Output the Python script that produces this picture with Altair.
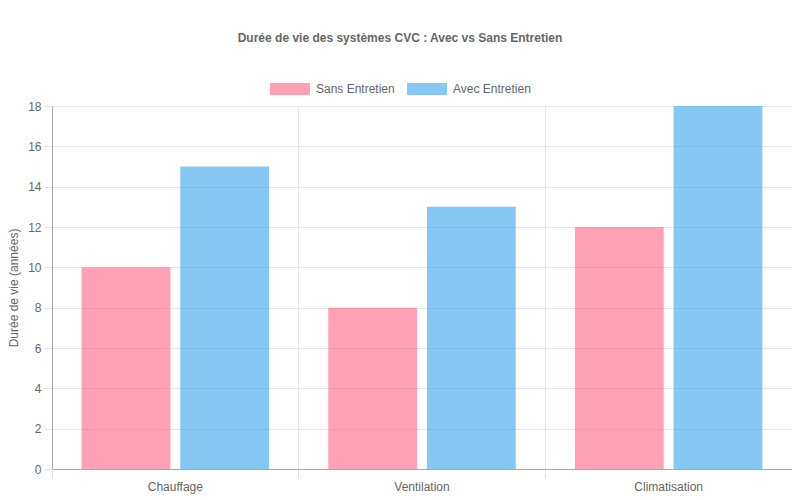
import altair as alt
import pandas as pd

categories = ["Chauffage", "Ventilation", "Climatisation"]
series = ["Sans Entretien", "Avec Entretien"]
sans_entretien = [10, 8, 12]
avec_entretien = [15, 13, 18]
colors = ["rgb(255,99,132)", "rgb(54,162,235)"]

rows = []
for i, c in enumerate(categories):
    rows.append({"Système": c, "Série": series[0], "Durée": sans_entretien[i]})
    rows.append({"Système": c, "Série": series[1], "Durée": avec_entretien[i]})
df = pd.DataFrame(rows)

FONT = "Liberation Sans"

chart = alt.Chart(df).mark_bar(opacity=0.6).encode(
    x=alt.X("Système:N", sort=categories,
            scale=alt.Scale(paddingInner=0, paddingOuter=0),
            axis=alt.Axis(title=None, bandPosition=0,
                          grid=True, gridColor="#e5e5e5",
                          tickColor="#e0e0e0", tickSize=9,
                          domainColor="#a8a8a8", labelAngle=0,
                          labelPadding=3, labelColor="#666", labelFontSize=12,
                          labelFont=FONT)),
    xOffset=alt.XOffset("Série:N", sort=series,
                        scale=alt.Scale(paddingInner=0.1, paddingOuter=0.3)),
    y=alt.Y("Durée:Q", scale=alt.Scale(domain=[0, 18], nice=False),
            axis=alt.Axis(title="Durée de vie (années)", values=list(range(0, 19, 2)),
                          grid=True, gridColor="#e5e5e5", tickColor="#e0e0e0",
                          tickSize=8, domainColor="#a8a8a8", labelPadding=3,
                          labelColor="#666", labelFontSize=12, labelFont=FONT,
                          titleColor="#666", titleFontSize=12, titleFont=FONT,
                          titleFontWeight="normal", titlePadding=7)),
    color=alt.Color("Série:N", sort=series,
                    scale=alt.Scale(domain=series, range=colors),
                    legend=alt.Legend(title=None, orient="none", direction="horizontal",
                                      legendX=218, legendY=-37,
                                      symbolType="M-1,-0.3H1V0.3H-1Z", symbolSize=1600,
                                      symbolStrokeWidth=0, symbolOpacity=0.6,
                                      labelOffset=6, columnPadding=12,
                                      labelColor="#666", labelFontSize=12, labelFont=FONT)),
).properties(
    width=740, height=363,
    title=alt.TitleParams("Durée de vie des systèmes CVC : Avec vs Sans Entretien",
                          anchor="middle", dx=-22, offset=24, color="#666",
                          fontSize=12, fontWeight="bold", font=FONT),
    padding={"left": 44, "top": 98, "right": 0, "bottom": 30},
    autosize=alt.AutoSizeParams(type="none"),
).configure_view(stroke="#e5e5e5")

chart.save("out.html", embed_options={"renderer": "svg", "actions": False})
